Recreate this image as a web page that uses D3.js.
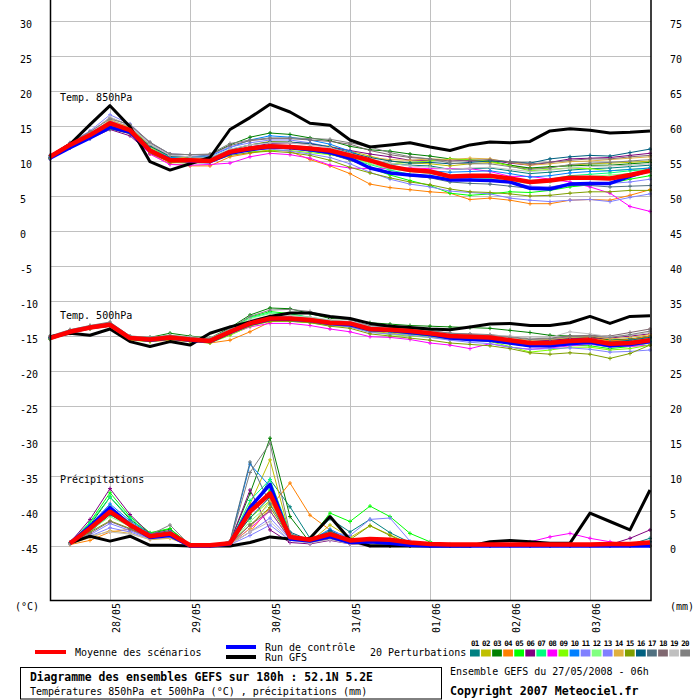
<!DOCTYPE html>
<html>
<head>
<meta charset="utf-8">
<script src="https://cdn.jsdelivr.net/npm/d3@7"></script>
<style>
	body { margin: 0; background: #fff; }
	text { font-family: "DejaVu Sans Mono", monospace; font-size: 10px; fill: #000; }
	.bold { font-weight: bold; }
</style>
</head>
<body>
<svg id="chart" width="700" height="700"></svg>
<script>
// time steps (hours since 27/05/2008 06h)
var hours = [0,6,12,18,24,30,36,42,48,54,60,66,72,78,84,90,96,102,108,114,120,126,132,138,144,150,156,162,168,174,180];
var precipHours = hours.slice(1);

var dayTicks = [18,42,66,90,114,138,162];
var dayLabels = ["28/05","29/05","30/05","31/05","01/06","02/06","03/06"];
var tempTicks = [30,25,20,15,10,5,0,-5,-10,-15,-20,-25,-30,-35,-40,-45];
var precipTicks = [75,70,65,60,55,50,45,40,35,30,25,20,15,10,5,0];

var pertNames = ["01","02","03","04","05","06","07","08","09","10","11","12","13","14","15","16","17","18","19","20"];
var pertColours = ["#008080","#c0c000","#008000","#ff8000","#00ff00","#800080","#00ff80","#ff00ff","#80ff00","#0080ff",
	"#8080ff","#80ff80","#8080ff","#e0b040","#80a000","#006080","#507080","#806870","#c0c0c0","#808080"];

// Temp. 850hPa
var mean850 = [10.6,12.3,13.7,15.4,14.4,11.5,10.1,10.1,10.0,11.3,11.8,12.1,12.0,11.8,11.5,10.8,10.1,9.2,8.7,8.5,7.8,7.9,7.9,7.5,7.0,7.2,7.6,7.6,7.5,8.0,8.6];
var gfs850 = [10.6,12.4,15.2,17.9,14.9,9.9,8.7,9.6,10.5,14.5,16.2,18.1,17.0,15.4,15.1,13.0,12.0,12.3,12.6,12.0,11.5,12.3,12.7,12.6,12.8,14.3,14.6,14.4,14.0,14.1,14.3];
var control850 = [10.4,11.9,13.3,14.8,14.1,11.5,10.2,10.0,9.9,11.1,11.6,12.0,11.9,11.6,11.2,10.4,9.0,8.3,8.0,7.8,7.3,7.3,7.2,7.0,6.1,6.0,6.7,6.8,6.8,7.8,8.7];
var pert850 = [
	[10.5,12.1,13.5,15.2,14.5,11.9,10.4,10.3,10.2,11.2,11.8,12.3,12.2,12.0,11.6,10.9,10.2,9.6,9.4,9.3,8.8,8.9,9.0,8.6,8.2,8.4,8.7,8.9,9.0,9.2,9.4],
	[10.7,12.4,13.9,15.6,14.7,12.0,10.4,10.2,10.1,11.6,12.3,12.8,12.7,12.4,12.1,11.4,10.7,10.0,9.7,9.6,9.3,9.6,9.8,9.4,8.9,9.1,9.4,9.6,9.7,9.8,10.0],
	[10.6,12.3,13.8,15.2,14.6,12.2,10.6,10.5,10.9,12.3,13.4,14.0,13.8,13.3,12.9,12.1,11.6,11.4,11.0,10.7,10.3,10.1,10.0,9.4,9.0,9.2,9.3,9.4,9.4,9.6,9.8],
	[10.4,12.0,13.5,15.8,14.2,11.0,9.6,9.3,9.3,10.6,11.1,11.6,11.4,10.2,9.3,8.2,6.7,6.2,5.9,5.6,5.4,4.5,4.7,4.4,3.9,3.9,4.4,4.5,4.4,5.1,5.9],
	[10.5,12.2,13.6,15.0,14.3,11.6,10.2,10.1,10.2,11.2,11.9,12.2,12.0,11.6,11.0,10.2,9.0,8.0,7.2,6.5,5.4,5.1,5.3,5.6,5.5,5.8,6.3,6.6,6.8,7.4,7.9],
	[10.4,12.1,13.2,14.5,13.6,11.1,9.9,10.0,10.1,11.4,12.0,12.5,12.6,12.4,12.0,11.5,11.0,10.6,10.1,10.1,10.2,10.0,10.1,9.7,9.4,9.8,10.3,10.4,10.5,10.8,11.1],
	[10.6,12.4,13.9,15.1,14.8,12.3,10.6,10.3,10.2,11.4,11.8,12.0,11.8,11.4,11.0,10.3,9.5,8.7,8.1,7.9,7.5,7.8,8.0,7.6,7.2,7.4,7.9,8.1,8.3,8.6,8.8],
	[10.3,11.9,13.4,14.8,13.9,11.0,9.5,9.4,9.5,9.7,10.6,11.1,10.9,10.4,9.4,9.0,8.9,9.0,9.0,8.9,8.9,8.9,8.5,7.8,7.8,7.4,7.0,6.3,5.4,3.5,2.8],
	[10.5,12.2,13.6,15.0,14.5,12.0,10.4,10.3,10.3,11.5,11.3,11.5,11.5,11.2,10.9,10.4,9.8,9.6,9.8,10.0,10.3,10.2,10.0,9.3,8.6,8.8,9.0,8.9,8.6,8.8,9.0],
	[10.3,11.9,13.2,14.6,14.0,11.8,10.5,10.6,10.7,11.9,13.0,13.6,13.4,13.0,12.4,11.4,10.2,9.4,8.8,8.6,8.4,8.5,8.6,8.2,7.7,7.9,8.3,8.5,8.6,8.8,9.0],
	[10.6,12.5,14.0,15.7,15.0,12.4,10.8,10.6,10.4,11.3,11.6,11.7,11.4,11.0,10.5,9.6,8.4,7.4,6.7,6.3,5.7,5.5,5.3,4.7,4.4,4.2,4.4,4.5,4.2,4.8,5.3],
	[10.7,12.4,13.8,15.3,14.6,11.9,10.3,10.1,10.0,11.0,11.6,12.0,12.0,11.8,11.3,10.5,9.6,8.9,8.5,8.2,7.8,7.6,7.5,7.1,6.8,7.0,7.5,7.8,8.0,8.2,8.5],
	[10.8,12.6,14.3,16.6,15.3,12.6,11.0,10.9,10.8,12.0,12.6,13.0,13.0,12.6,12.0,11.1,10.1,9.4,8.8,8.4,7.6,7.4,7.2,6.9,6.4,6.3,6.7,6.9,6.8,7.0,7.4],
	[10.5,12.3,13.7,15.9,14.8,12.2,10.7,10.4,10.3,11.1,11.6,11.9,11.9,11.9,11.6,11.0,10.5,10.2,10.1,10.3,10.2,10.4,10.3,9.8,9.4,9.6,9.9,10.0,10.2,10.4,10.6],
	[10.4,11.9,13.3,14.6,13.9,11.2,9.8,9.7,9.8,10.8,11.2,11.4,11.2,10.8,10.1,9.1,8.3,7.6,7.0,6.6,6.0,5.6,5.5,5.3,5.0,5.1,5.4,5.6,5.6,5.8,5.8],
	[10.5,12.2,13.6,15.1,14.5,12.1,10.7,10.6,10.5,11.6,12.3,12.7,12.7,12.5,12.0,11.2,10.5,10.0,9.7,9.8,9.6,9.8,10.0,9.9,9.7,10.3,10.6,10.8,10.7,11.2,11.7],
	[10.6,12.3,13.7,15.2,14.4,11.5,10.0,10.0,10.1,11.2,11.7,12.0,11.9,11.5,11.0,10.1,9.1,8.4,7.9,7.6,7.0,6.8,6.7,6.4,6.1,6.2,6.5,6.5,6.3,6.4,6.5],
	[10.7,12.5,14.1,16.2,15.1,12.6,11.0,10.9,10.9,12.2,12.9,13.2,13.2,13.0,12.8,12.4,11.5,10.9,10.5,10.3,10.0,10.1,10.2,9.9,9.6,9.8,10.1,10.3,10.3,10.6,10.8],
	[10.6,12.4,14.0,16.3,15.0,12.4,10.8,10.6,10.5,11.7,12.3,12.6,12.6,12.3,11.9,11.1,10.3,9.7,9.3,9.1,8.8,9.0,9.1,8.8,8.5,8.7,9.0,9.2,9.3,9.4,9.6],
	[10.8,12.6,14.2,16.0,15.2,12.7,11.0,10.9,11.0,12.5,13.0,13.3,13.3,13.2,13.1,12.6,12.0,11.2,10.6,10.3,9.7,9.6,9.6,9.2,8.8,9.0,9.5,9.7,9.8,10.0,10.2]
];

// Temp. 500hPa
var mean500 = [-15.3,-14.4,-13.8,-13.4,-15.3,-15.5,-15.2,-15.5,-15.7,-14.4,-13.2,-12.5,-12.5,-12.7,-13.1,-13.2,-14.0,-14.1,-14.3,-14.6,-15.0,-15.1,-15.2,-15.6,-16.0,-16.0,-15.7,-15.6,-16.1,-16.0,-15.6];
var gfs500 = [-15.1,-14.6,-14.9,-14.0,-15.8,-16.5,-15.8,-16.3,-14.6,-13.7,-13.0,-12.2,-11.7,-11.7,-12.2,-12.5,-13.2,-13.6,-13.8,-14.0,-14.1,-13.7,-13.3,-13.2,-13.5,-13.5,-13.1,-12.2,-13.2,-12.2,-12.1];
var control500 = [-15.3,-14.4,-13.8,-13.4,-15.3,-15.6,-15.3,-15.6,-15.8,-14.5,-13.3,-12.6,-12.6,-12.8,-13.2,-13.4,-14.1,-14.2,-14.5,-14.8,-15.3,-15.5,-15.6,-16.0,-16.4,-16.4,-16.1,-15.9,-16.4,-16.2,-15.8];
var pert500 = [
	[-15.4,-14.5,-13.9,-13.5,-15.2,-15.4,-15.0,-15.3,-15.5,-14.2,-13.0,-12.3,-12.3,-12.5,-13.0,-13.3,-14.2,-14.4,-14.5,-14.7,-15.0,-15.0,-15.2,-15.5,-15.8,-15.6,-15.3,-15.2,-15.6,-15.4,-15.1],
	[-15.2,-14.3,-13.7,-13.3,-15.4,-15.6,-15.3,-15.4,-15.6,-14.3,-13.1,-12.6,-12.7,-12.9,-13.2,-13.5,-14.3,-14.6,-14.8,-15.0,-15.3,-15.4,-15.5,-15.8,-16.1,-16.0,-15.8,-15.5,-15.8,-15.7,-15.3],
	[-15.3,-14.4,-13.7,-13.2,-15.1,-15.2,-14.6,-15.0,-15.3,-13.8,-12.0,-11.0,-11.1,-11.8,-12.5,-12.6,-13.1,-13.3,-13.5,-13.6,-13.7,-13.8,-13.9,-14.2,-14.5,-14.9,-15.0,-15.1,-15.6,-15.5,-15.0],
	[-15.3,-14.5,-13.9,-13.6,-15.5,-15.8,-15.6,-15.8,-16.0,-15.6,-14.4,-13.0,-12.6,-12.8,-13.2,-13.3,-14.1,-14.2,-14.4,-14.8,-15.2,-15.3,-15.3,-15.6,-15.9,-15.7,-15.4,-15.2,-15.7,-15.5,-15.0],
	[-15.1,-14.2,-13.6,-13.2,-15.3,-15.7,-15.4,-15.6,-15.8,-14.1,-12.3,-11.5,-11.8,-12.4,-13.0,-13.3,-14.2,-14.4,-14.7,-15.0,-15.3,-15.6,-15.7,-16.1,-16.5,-16.4,-16.3,-16.4,-16.8,-16.5,-16.0],
	[-15.2,-14.3,-13.7,-13.3,-15.2,-15.5,-15.2,-15.5,-15.8,-14.6,-13.3,-12.6,-12.5,-12.6,-12.8,-13.0,-13.6,-13.6,-13.8,-14.2,-14.8,-15.2,-15.3,-15.7,-15.8,-15.6,-15.4,-15.3,-15.3,-15.0,-14.7],
	[-15.3,-14.4,-13.8,-13.4,-15.3,-15.5,-15.1,-15.4,-15.6,-14.0,-12.4,-11.7,-11.9,-12.3,-12.8,-13.1,-13.9,-14.1,-14.3,-14.6,-15.1,-15.3,-15.4,-15.8,-16.0,-16.0,-15.8,-15.8,-16.2,-16.0,-15.6],
	[-15.4,-14.6,-14.0,-13.6,-15.4,-15.6,-15.3,-15.6,-15.9,-14.8,-13.7,-13.2,-13.2,-13.5,-14.0,-14.4,-15.1,-15.2,-15.5,-16.0,-16.3,-16.8,-16.1,-16.6,-16.9,-16.7,-16.4,-16.2,-16.5,-16.5,-16.3],
	[-15.5,-14.6,-14.0,-13.6,-15.6,-15.8,-15.5,-15.8,-16.0,-14.9,-13.6,-12.9,-12.9,-13.1,-13.5,-13.7,-14.4,-14.8,-15.0,-15.2,-15.4,-15.6,-15.8,-16.5,-17.3,-17.0,-16.6,-16.6,-17.0,-16.8,-16.3],
	[-15.2,-14.3,-13.7,-13.3,-15.3,-15.4,-15.1,-15.4,-15.6,-14.2,-12.8,-12.2,-12.3,-12.6,-13.1,-13.3,-14.0,-14.2,-14.4,-14.7,-15.2,-15.6,-15.7,-15.9,-16.2,-16.3,-16.1,-16.1,-16.5,-16.3,-15.8],
	[-15.4,-14.5,-13.9,-13.5,-15.4,-15.6,-15.2,-15.5,-15.7,-14.5,-13.3,-12.7,-12.7,-12.9,-13.4,-13.7,-14.5,-14.7,-14.9,-15.2,-15.6,-15.9,-16.1,-16.6,-16.9,-16.8,-16.7,-16.9,-17.3,-17.2,-17.0],
	[-15.2,-14.3,-13.6,-13.2,-15.2,-15.3,-14.9,-15.2,-15.4,-14.0,-12.5,-11.8,-12.0,-12.4,-12.9,-13.1,-13.8,-14.0,-14.2,-14.5,-14.9,-15.1,-15.2,-15.6,-15.9,-15.9,-15.6,-15.5,-15.9,-15.7,-15.3],
	[-15.3,-14.4,-13.8,-13.4,-15.3,-15.5,-15.2,-15.5,-15.7,-14.4,-13.2,-12.6,-12.6,-12.8,-13.2,-13.4,-14.2,-14.3,-14.5,-14.8,-15.1,-15.3,-15.5,-16.0,-16.4,-16.6,-16.3,-16.1,-16.6,-16.4,-16.0],
	[-15.3,-14.5,-13.9,-13.5,-15.4,-15.6,-15.3,-15.6,-15.8,-14.6,-13.4,-12.8,-12.7,-12.8,-13.1,-13.2,-13.9,-14.0,-14.2,-14.5,-14.9,-15.0,-15.1,-15.4,-15.6,-15.5,-15.2,-15.0,-15.4,-15.2,-14.8],
	[-15.4,-14.5,-13.9,-13.5,-15.5,-15.7,-15.4,-15.7,-15.9,-14.7,-13.5,-12.9,-12.9,-13.1,-13.6,-13.9,-14.7,-15.0,-15.3,-15.6,-16.0,-16.2,-16.4,-16.8,-17.4,-17.6,-17.4,-17.6,-18.2,-17.5,-16.3],
	[-15.2,-14.3,-13.7,-13.3,-15.2,-15.4,-15.1,-15.4,-15.6,-14.3,-13.0,-12.4,-12.4,-12.6,-13.0,-13.2,-14.0,-14.2,-14.4,-14.7,-15.0,-15.2,-15.4,-15.8,-16.0,-15.8,-15.6,-15.5,-15.9,-15.6,-15.2],
	[-15.4,-14.5,-13.9,-13.5,-15.3,-15.5,-15.2,-15.5,-15.7,-14.4,-13.1,-12.5,-12.5,-12.7,-13.1,-13.3,-14.0,-14.2,-14.5,-14.8,-15.2,-15.4,-15.5,-15.9,-16.2,-16.1,-15.8,-15.6,-16.0,-15.8,-15.4],
	[-15.1,-14.2,-13.6,-13.2,-15.1,-15.3,-15.0,-15.3,-15.5,-14.2,-12.9,-12.3,-12.3,-12.5,-12.9,-13.0,-13.7,-13.8,-14.0,-14.3,-14.6,-14.7,-14.8,-15.1,-15.4,-15.3,-15.0,-14.9,-15.0,-14.5,-14.0],
	[-15.0,-14.1,-13.5,-13.1,-15.0,-15.2,-14.9,-15.1,-15.3,-14.0,-12.7,-12.1,-12.1,-12.3,-12.7,-12.9,-13.6,-13.8,-14.0,-14.3,-14.7,-14.8,-14.9,-15.0,-15.3,-15.2,-14.4,-14.7,-15.1,-14.9,-14.5],
	[-15.0,-14.1,-13.5,-13.0,-15.0,-15.2,-14.9,-15.2,-15.4,-13.9,-12.2,-11.3,-11.2,-11.5,-12.3,-12.7,-13.5,-13.7,-13.9,-14.2,-14.6,-14.8,-14.9,-15.2,-15.5,-15.4,-15.1,-15.0,-15.2,-14.8,-14.3]
];

// Précipitations (mm per 6h, from +6h)
var meanPrecip = [0.4,2.5,4.9,3.0,1.4,1.8,0.1,0.1,0.4,4.9,7.5,1.3,0.9,1.7,0.8,1.0,0.9,0.5,0.3,0.2,0.2,0.2,0.2,0.2,0.2,0.2,0.2,0.3,0.3,0.5];
var gfsPrecip = [0.4,1.4,0.7,1.4,0.1,0.1,0.0,0.0,0.0,0.5,1.3,1.0,1.1,4.2,0.9,0.0,0.0,0.0,0.0,0.0,0.0,0.6,0.8,0.6,0.4,0.4,4.7,3.5,2.3,8.0];
var controlPrecip = [0.4,2.8,5.5,3.0,1.2,1.5,0.0,0.0,0.3,5.5,8.8,1.0,0.7,1.3,0.5,0.6,0.4,0.1,0.0,0.0,0.0,0.0,0.0,0.0,0.0,0.0,0.0,0.0,0.0,0.0];
var pertPrecip = [
	[0.3,2.0,4.5,2.8,1.2,1.6,0.1,0.1,0.3,5.0,9.5,5.6,1.1,3.9,2.0,3.8,1.9,0.5,0.1,0,0,0,0,0,0,0,0,0,0.2,1.1],
	[0.4,2.6,5.0,3.2,1.5,2.0,0.1,0.0,0.5,6.0,12.3,1.5,0.6,3.0,1.2,2.9,1.6,0.3,0,0,0,0,0,0,0,0,0,0,0,0],
	[0.5,3.0,7.0,3.8,1.8,2.4,0.2,0.1,0.6,7.5,15.4,4.2,0.5,1.5,0.6,0.5,0.2,0,0,0,0,0,0,0,0,0,0,0,0,0],
	[0.2,0.8,2.0,2.4,1.0,1.2,0.1,0.0,0.2,2.0,5.5,9.0,4.4,2.3,0.5,0.3,0.1,0,0,0,0,0,0,0,0,0,0,0,0,0],
	[0.4,3.4,7.6,4.2,1.9,2.5,0.1,0.0,0.4,4.5,8.0,1.5,1.0,4.7,3.5,5.7,4.2,1.8,0.6,0,0,0,0,0,0,0,0,0,0,0],
	[0.5,3.8,8.2,4.5,1.7,2.2,0.1,0.1,0.5,8.0,2.3,0.5,0.3,0.8,0.3,0.2,0,0,0,0,0,0,0,0,0,0,0,0.2,1.1,2.3],
	[0.4,3.3,7.0,4.0,1.6,2.1,0.2,0.1,0.5,6.5,9.5,1.8,0.6,1.8,1.0,0.5,0.2,0,0,0,0,0,0,0,0,0,0,0,0,0],
	[0.3,2.5,5.0,3.0,1.3,1.5,0.0,0.0,0.3,2.5,5.0,1.0,0.5,1.0,0.3,0.1,0,0,0,0,0,0,0,0.6,1.3,1.8,1.1,0.6,0.2,0.1],
	[0.4,2.7,5.6,3.3,1.6,1.9,0.1,0.0,0.4,4.0,6.5,1.2,0.8,2.0,0.7,0.4,0.1,0,0,0,0,0,0,0,0,0,0,0,0,0],
	[0.4,3.0,6.0,3.6,1.7,2.0,0.1,0.1,0.5,11.7,8.5,1.5,0.8,2.4,1.0,1.0,0.5,0.1,0,0,0,0,0,0,0,0,0,0,0,0],
	[0.3,1.6,3.2,2.2,1.1,1.4,0.1,0.0,0.3,2.0,4.0,1.0,0.6,2.0,1.5,3.8,4.0,0.7,0.1,0,0,0,0,0,0,0,0,0,0,0],
	[0.4,2.2,4.2,2.8,1.4,1.7,0.1,0.0,0.3,3.5,6.0,1.4,0.7,1.5,0.5,0.3,0.1,0,0,0,0,0,0,0,0,0,0,0,0,0],
	[0.3,1.4,2.6,2.0,1.0,1.2,0.0,0.0,0.2,1.5,3.0,0.8,0.5,1.3,0.6,0.6,0.2,0,0,0,0,0,0,0,0,0,0,0,0,0],
	[0.3,1.2,2.2,1.8,0.9,1.1,0.0,0.0,0.2,2.5,6.5,1.0,0.6,1.2,0.4,0.2,0,0,0,0,0,0,0,0,0,0,0,0,0,0],
	[0.4,2.0,3.6,2.5,1.3,1.6,0.1,0.0,0.3,3.0,5.5,1.2,0.6,2.0,0.9,2.9,1.5,0.2,0,0,0,0,0,0,0,0,0,0,0,0],
	[0.4,2.4,4.5,3.0,1.5,1.8,0.1,0.0,0.4,4.0,7.0,2.0,0.8,2.2,0.8,0.6,0.3,0,0,0,0,0,0,0,0,0,0,0,0.3,0.6],
	[0.4,2.6,5.2,3.2,1.5,1.9,0.1,0.0,0.7,12.0,6.0,1.2,0.5,1.4,0.5,0.3,0.1,0,0,0,0,0,0,0,0,0,0,0,0,0],
	[0.3,1.8,3.5,2.4,1.2,1.5,0.0,0.0,0.3,3.0,5.0,1.0,0.5,1.0,0.3,0.1,0,0,0,0,0,0,0,0,0,0,0,0,0,0],
	[0.3,1.5,2.0,1.7,1.0,1.3,0.0,0.0,0.2,2.0,3.5,0.8,0.4,0.9,0.3,0.3,0.4,0.5,0.5,0.3,0,0,0,0,0,0,0,0,0,0],
	[0.4,2.8,5.5,3.4,1.6,3.0,0.1,0.0,0.5,10.5,14.7,1.8,0.7,1.6,0.6,0.3,0.1,0,0,0,0,0,0,0,0,0,0,0,0,0]
];

var svg = d3.select("#chart");

var x = d3.scaleLinear().domain([0, 180]).range([50, 650]);
var y = d3.scaleLinear().domain([30, -45]).range([21, 546]);
var yMm = d3.scaleLinear().domain([75, 0]).range([21, 546]);

function buildGrid(target) {
	target.selectAll("line.hgrid")
		.data(tempTicks)
		.enter()
	  .append("line")
		.attr("class", "hgrid")
		.attr("x1", 50)
		.attr("x2", 651)
		.attr("y1", function (d) { return Math.round(y(d)) + 0.5; })
		.attr("y2", function (d) { return Math.round(y(d)) + 0.5; })
		.attr("stroke", "#c0c0c0")
		.attr("stroke-width", 1);

	target.selectAll("line.vgrid")
		.data(dayTicks)
		.enter()
	  .append("line")
		.attr("class", "vgrid")
		.attr("x1", function (d) { return x(d) + 0.5; })
		.attr("x2", function (d) { return x(d) + 0.5; })
		.attr("y1", 0)
		.attr("y2", 600)
		.attr("stroke", "#c0c0c0")
		.attr("stroke-width", 1);
}

function buildFrame(target) {
	target.append("path")
		.attr("d", "M50.5,0V600.5H651V0")
		.attr("fill", "none")
		.attr("stroke", "#000")
		.attr("stroke-width", 1.5);

	target.selectAll("text.tleft")
		.data(tempTicks)
		.enter()
	  .append("text")
		.attr("class", "tleft")
		.attr("x", 20)
		.attr("y", function (d) { return y(d) + 7; })
		.text(function (d) { return d; });

	target.selectAll("text.tright")
		.data(precipTicks)
		.enter()
	  .append("text")
		.attr("class", "tright")
		.attr("x", 670)
		.attr("y", function (d) { return yMm(d) + 7; })
		.text(function (d) { return d; });

	target.selectAll("text.day")
		.data(dayTicks)
		.enter()
	  .append("text")
		.attr("class", "day")
		.attr("text-anchor", "end")
		.attr("transform", function (d) {
			return "translate(" + (x(d) + 10) + ",603) rotate(-90)";
		})
		.text(function (d, i) { return dayLabels[i]; });

	target.append("text").attr("x", 15).attr("y", 610).text("(°C)");
	target.append("text").attr("x", 670).attr("y", 610).text("(mm)");
}

function buildPanel(target, steps, pert, control, gfs, mean, scale) {
	var line = d3.line()
		.x(function (d, i) { return x(steps[i]); })
		.y(function (d) { return scale(d); });

	var g = target.append("g");

	pert.forEach(function (series, k) {
		g.append("path")
			.datum(series)
			.attr("d", line)
			.attr("fill", "none")
			.attr("stroke", pertColours[k])
			.attr("stroke-width", 1);

		g.selectAll("path.mk" + k)
			.data(series)
			.enter()
		  .append("path")
			.attr("class", "mk" + k)
			.attr("d", function (d, i) {
				var px = x(steps[i]), py = scale(d);
				return "M" + (px - 2) + "," + py + "H" + (px + 2) + "M" + px + "," + (py - 2) + "V" + (py + 2);
			})
			.attr("stroke", pertColours[k])
			.attr("stroke-width", 1);
	});

	g.append("path")
		.datum(gfs)
		.attr("d", line)
		.attr("fill", "none")
		.attr("stroke", "#000")
		.attr("stroke-width", 3)
		.attr("stroke-linejoin", "round");

	g.append("path")
		.datum(control)
		.attr("d", line)
		.attr("fill", "none")
		.attr("stroke", "#0000ff")
		.attr("stroke-width", 3.5)
		.attr("stroke-linejoin", "round");

	g.append("path")
		.datum(mean)
		.attr("d", line)
		.attr("fill", "none")
		.attr("stroke", "#ff0000")
		.attr("stroke-width", 4.5)
		.attr("stroke-linejoin", "round");
}

function buildLegend(target) {
	target.append("line")
		.attr("x1", 35).attr("x2", 66).attr("y1", 652).attr("y2", 652)
		.attr("stroke", "#ff0000").attr("stroke-width", 4);
	target.append("text").attr("x", 75).attr("y", 655.5).text("Moyenne des scénarios");

	target.append("line")
		.attr("x1", 226).attr("x2", 256).attr("y1", 647).attr("y2", 647)
		.attr("stroke", "#0000ff").attr("stroke-width", 4);
	target.append("line")
		.attr("x1", 226).attr("x2", 256).attr("y1", 657).attr("y2", 657)
		.attr("stroke", "#000").attr("stroke-width", 4);
	target.append("text").attr("x", 265).attr("y", 650.5).text("Run de contrôle");
	target.append("text").attr("x", 265).attr("y", 661).text("Run GFS");

	target.append("text").attr("x", 370).attr("y", 655.5).text("20 Perturbations");

	var sx = d3.scaleBand().domain(pertNames).range([470, 690]).paddingInner(0.12);

	target.selectAll("rect.key")
		.data(pertNames)
		.enter()
	  .append("rect")
		.attr("class", "key")
		.attr("x", function (d) { return sx(d); })
		.attr("y", 649.5)
		.attr("width", sx.bandwidth())
		.attr("height", 7)
		.attr("fill", function (d, i) { return pertColours[i]; });

	target.selectAll("text.key")
		.data(pertNames)
		.enter()
	  .append("text")
		.attr("class", "key")
		.attr("x", function (d) { return sx(d) + sx.bandwidth() / 2; })
		.attr("y", 646)
		.attr("text-anchor", "middle")
		.style("font-size", "7.5px")
		.style("font-weight", "bold")
		.style("letter-spacing", "-0.7px")
		.text(function (d) { return d; });

	target.append("rect")
		.attr("x", 20.5).attr("y", 667.5).attr("width", 421).attr("height", 31.5)
		.attr("fill", "none").attr("stroke", "#000").attr("stroke-width", 1);
	target.append("text").attr("class", "bold").attr("x", 30).attr("y", 681)
		.style("font-size", "11.4px")
		.text("Diagramme des ensembles GEFS sur 180h : 52.1N 5.2E");
	target.append("text").attr("x", 30).attr("y", 695)
		.text("Températures 850hPa et 500hPa (°C) , précipitations (mm)");
	target.append("text").attr("x", 450).attr("y", 675)
		.text("Ensemble GEFS du 27/05/2008 - 06h");
	target.append("text").attr("class", "bold").attr("x", 450).attr("y", 694.5)
		.style("font-size", "11.6px")
		.text("Copyright 2007 Meteociel.fr");
}

buildGrid(svg);
buildPanel(svg, hours, pert850, control850, gfs850, mean850, y);
buildPanel(svg, hours, pert500, control500, gfs500, mean500, y);
buildPanel(svg, precipHours, pertPrecip, controlPrecip, gfsPrecip, meanPrecip, function (d) { return yMm(d); });
buildFrame(svg);

svg.append("text").attr("x", 60).attr("y", 101).text("Temp. 850hPa");
svg.append("text").attr("x", 60).attr("y", 319).text("Temp. 500hPa");
svg.append("text").attr("x", 60).attr("y", 483).text("Précipitations");

buildLegend(svg);
</script>
</body>
</html>
